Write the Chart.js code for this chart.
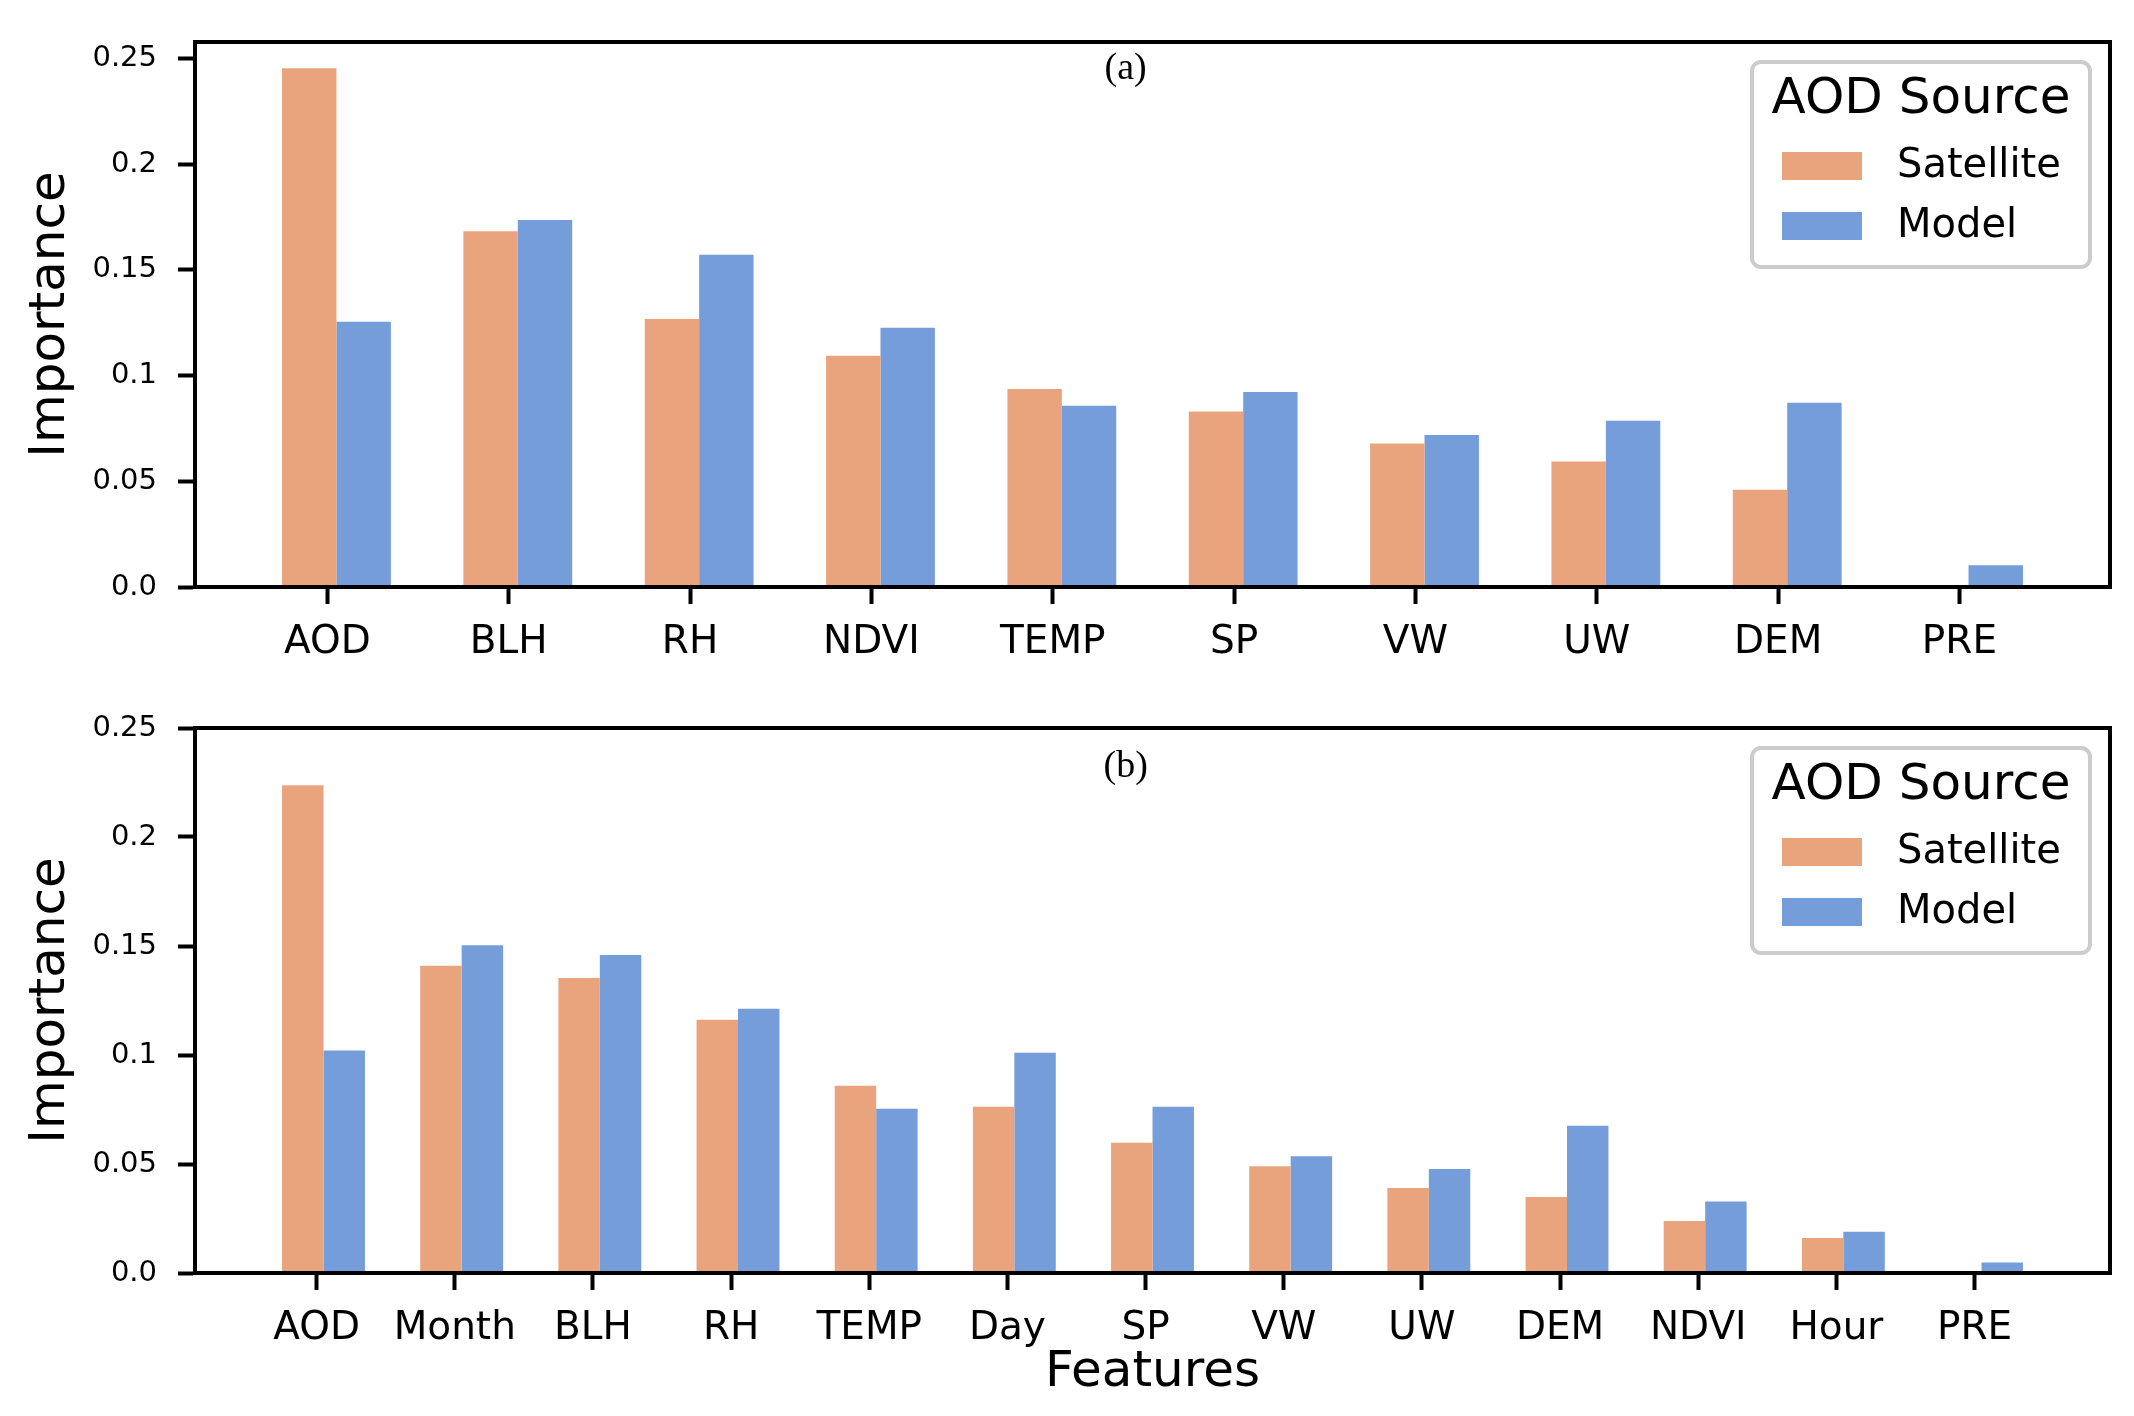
<!DOCTYPE html>
<html>
<head>
<meta charset="utf-8">
<script src="https://cdn.jsdelivr.net/npm/chart.js@4.4.1/dist/chart.umd.min.js"></script>
<style>
  html, body { margin: 0; padding: 0; background: #fff; }
  .panel { position: absolute; left: 0; width: 2134px; }
</style>
</head>
<body>
<div class="panel" style="top:0;height:708px"><canvas id="chartA" width="2134" height="708"></canvas></div>
<div class="panel" style="top:670px;height:746px"><canvas id="chartB" width="2134" height="746"></canvas></div>
<script>
// panel (a)
const featuresA = ['AOD', 'BLH', 'RH', 'NDVI', 'TEMP', 'SP', 'VW', 'UW', 'DEM', 'PRE']
const satelliteA = [0.2453, 0.1682, 0.1267, 0.1094, 0.0936, 0.0830, 0.0678, 0.0593, 0.0460, 0.0008]
const modelA = [0.1254, 0.1735, 0.1571, 0.1226, 0.0857, 0.0922, 0.0719, 0.0786, 0.0871, 0.0103]

// panel (b)
const featuresB = ['AOD', 'Month', 'BLH', 'RH', 'TEMP', 'Day', 'SP', 'VW', 'UW', 'DEM', 'NDVI', 'Hour', 'PRE']
const satelliteB = [0.2237, 0.1409, 0.1353, 0.1162, 0.0859, 0.0763, 0.0598, 0.0490, 0.0390, 0.0349, 0.0239, 0.0160, 0.0006]
const modelB = [0.1021, 0.1504, 0.1459, 0.1212, 0.0753, 0.1010, 0.0763, 0.0535, 0.0477, 0.0676, 0.0328, 0.0189, 0.0048]

const yTicks = [0, 0.05, 0.1, 0.15, 0.2, 0.25]
const yTickLabels = ['0.0', '0.05', '0.1', '0.15', '0.2', '0.25']

const legendTitle = 'AOD Source'
const satColor = 'rgb(233, 164, 126)'
const modelColor = 'rgb(116, 157, 218)'
const barShift = 0.05
const font = '"DejaVu Sans", sans-serif'

const frame = {
  id: 'frame',
  afterDraw(chart) {
    const { ctx, chartArea: a } = chart
    ctx.save()
    ctx.strokeStyle = '#000'
    ctx.lineWidth = 4
    ctx.strokeRect(a.left, a.top, a.right - a.left, a.bottom - a.top)
    ctx.restore()
  }
}

const boxLegend = {
  id: 'boxLegend',
  afterDraw(chart) {
    const { ctx, chartArea } = chart
    const w = 338, h = 205
    const left = chartArea.right - 20 - w
    const top = chartArea.top + 20
    ctx.save()
    ctx.fillStyle = 'rgba(255,255,255,0.8)'
    ctx.strokeStyle = '#cccccc'
    ctx.lineWidth = 4
    ctx.beginPath()
    ctx.roundRect(left, top, w, h, 9)
    ctx.fill()
    ctx.stroke()
    ctx.fillStyle = '#000'
    ctx.font = '50px ' + font
    ctx.textAlign = 'center'
    ctx.textBaseline = 'middle'
    ctx.fillText(legendTitle, left + w / 2, top + 38)
    chart.data.datasets.forEach((ds, i) => {
      const y = top + 104 + i * 60
      ctx.fillStyle = ds.backgroundColor
      ctx.fillRect(left + 30, y - 14, 80, 28)
      ctx.fillStyle = '#000'
      ctx.font = '40px ' + font
      ctx.textAlign = 'left'
      ctx.fillText(ds.label, left + 145, y + 1)
    })
    ctx.restore()
  }
}

const panelLabel = {
  id: 'panelLabel',
  afterDraw(chart, args, opts) {
    const { ctx, chartArea: a } = chart
    ctx.save()
    ctx.fillStyle = '#000'
    ctx.font = '38px "Liberation Serif", serif'
    ctx.textAlign = 'center'
    ctx.textBaseline = 'middle'
    ctx.fillText(opts.text, a.left + opts.x * (a.right - a.left), a.top + opts.y)
    ctx.restore()
  }
}

function makeChart(id, labels, sat, model, cfg) {
  // matplotlib-style x limits: bar extent plus 5% margin
  const lo = barShift - 0.3
  const hi = labels.length - 1 + barShift + 0.3
  const margin = (hi - lo) * 0.05
  const tickGrid = { display: true, drawOnChartArea: false, drawTicks: true, tickLength: 17, tickWidth: 4, tickColor: '#000', offset: false }

  return new Chart(document.getElementById(id), {
    type: 'bar',
    data: {
      datasets: [
        {
          label: 'Satellite',
          data: sat.map((v, i) => ({ x: i + barShift, y: v })),
          backgroundColor: satColor,
          borderWidth: 0,
          categoryPercentage: 0.6,
          barPercentage: 1
        },
        {
          label: 'Model',
          data: model.map((v, i) => ({ x: i + barShift, y: v })),
          backgroundColor: modelColor,
          borderWidth: 0,
          categoryPercentage: 0.6,
          barPercentage: 1
        }
      ]
    },
    options: {
      responsive: false,
      animation: false,
      devicePixelRatio: 1,
      layout: { padding: { top: cfg.padTop, right: 24, left: 0, bottom: 0 } },
      plugins: {
        legend: { display: false },
        tooltip: { enabled: false },
        panelLabel: { text: cfg.label, x: 0.486, y: cfg.labelY }
      },
      scales: {
        x: {
          type: 'linear',
          offset: false,
          min: lo - margin,
          max: hi + margin,
          afterBuildTicks: axis => { axis.ticks = labels.map((_, i) => ({ value: i })) },
          afterFit: axis => { axis.height = cfg.xHeight },
          ticks: {
            autoSkip: false,
            maxRotation: 0,
            padding: 15,
            color: '#000',
            font: { family: font, size: 39 },
            callback: v => labels[Math.round(v)]
          },
          grid: tickGrid,
          border: { display: true, color: '#000', width: 4 },
          title: {
            display: !!cfg.xTitle,
            text: cfg.xTitle || '',
            color: '#000',
            font: { family: font, size: 50 },
            padding: { top: 0, bottom: 13 }
          }
        },
        y: {
          min: 0,
          max: cfg.yMax,
          afterBuildTicks: axis => { axis.ticks = yTicks.map(v => ({ value: v })) },
          afterFit: axis => { axis.width = 195 },
          ticks: {
            padding: 21,
            color: '#000',
            font: { family: font, size: 29 },
            callback: (v, i) => yTickLabels[i]
          },
          grid: tickGrid,
          border: { display: true, color: '#000', width: 4 },
          title: {
            display: true,
            text: 'Importance',
            color: '#000',
            font: { family: font, size: 50 },
            padding: { top: 21, bottom: 0 }
          }
        }
      }
    },
    plugins: [frame, boxLegend, panelLabel]
  })
}

makeChart('chartA', featuresA, satelliteA, modelA, {
  label: '(a)', labelY: 27, padTop: 42, xHeight: 121, yMax: 0.2577
})
makeChart('chartB', featuresB, satelliteB, modelB, {
  label: '(b)', labelY: 39, padTop: 58, xHeight: 143, yMax: 0.25, xTitle: 'Features'
})
</script>
</body>
</html>
